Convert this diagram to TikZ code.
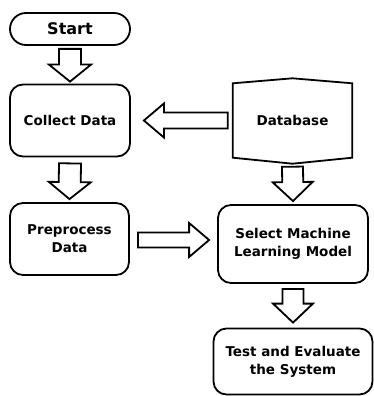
\documentclass[tikz,border=0pt]{standalone}
\usepackage{fontspec}
\setmainfont{DejaVu Sans}
\usetikzlibrary{positioning, calc}

% block arrow: tail, tip, half shaft, half head, head length
\newcommand{\fatarrow}[5]{%
  \coordinate (fa-b) at ($(#2)!#5!(#1)$);
  \draw[fatline] ($(#1)!#3!90:(#2)$) -- ($(fa-b)!#3!90:(#2)$) -- ($(fa-b)!#4!90:(#2)$)
    -- (#2) -- ($(fa-b)!#4!-90:(#2)$) -- ($(fa-b)!#3!-90:(#2)$) -- ($(#1)!#3!-90:(#2)$) -- cycle;}

\begin{document}
\begin{tikzpicture}[x=1pt, y=-1pt,
  boxline/.style={draw=black, line width=1.8pt},
  fatline/.style={draw=black, fill=white, line width=1.8pt, line join=miter},
  procbox/.style={boxline, rounded corners=13pt, align=center, inner sep=0pt, font=\bfseries\fontsize{13.5}{18}\selectfont},
  startbox/.style={boxline, rounded corners=16pt, minimum width=120pt, minimum height=32pt, inner sep=0pt, font=\bfseries\fontsize{16}{19}\selectfont},
  dbbox/.style={minimum width=119pt, minimum height=74pt, inner sep=0pt, font=\bfseries\fontsize{13.5}{18}\selectfont}
]
  \useasboundingbox (0,0) rectangle (374,396);

  % boxes
  \node[startbox] (start) at (70,29) {Start};
  \node[procbox, minimum width=120pt, minimum height=72pt] (collect) at (70,120.5) {Collect Data};
  \node[procbox, minimum width=119pt, minimum height=72pt] (prep) at (69.5,239) {Preprocess\\Data};
  \node[dbbox] (db) at (292.5,120.5) {Database};
  \draw[boxline] (db.north west) -- ([yshift=5pt]db.north) -- (db.north east)
    -- (db.south east) -- ([yshift=-6pt]db.south) -- (db.south west) -- cycle;
  \node[procbox, minimum width=150pt, minimum height=78pt] (select) at (293,244) {Select Machine\\Learning Model};
  \node[procbox, minimum width=159pt, minimum height=66pt] (test) at (293,361.5) {Test and Evaluate\\the System};

  % arrows
  \coordinate (a1t) at ([yshift=-3pt]start.south);
  \coordinate (a1h) at ([yshift=2pt]collect.north);
  \fatarrow{a1t}{a1h}{11pt}{21pt}{17pt}
  \coordinate (a2t) at ([yshift=-6pt]collect.south);
  \coordinate (a2h) at ([yshift=3pt]prep.north);
  \fatarrow{a2t}{a2h}{11pt}{21pt}{17pt}
  \coordinate (a3t) at ([xshift=-5pt]db.west);
  \coordinate (a3h) at ([xshift=13pt]collect.east);
  \fatarrow{a3t}{a3h}{8pt}{17pt}{20pt}
  \coordinate (a4t) at ([yshift=-9pt]db.south);
  \coordinate (a4h) at ([yshift=3pt]select.north);
  \fatarrow{a4t}{a4h}{10.5pt}{20pt}{19pt}
  \coordinate (a5t) at ($(prep.east)+(8pt,-1pt)$);
  \coordinate (a5h) at ($(a5t -| select.west)+(-8pt,0pt)$);
  \fatarrow{a5t}{a5h}{7.5pt}{17pt}{20pt}
  \coordinate (a6t) at ([yshift=-5pt]select.south);
  \coordinate (a6h) at ([yshift=5pt]test.north);
  \fatarrow{a6t}{a6h}{10.5pt}{20pt}{19pt}
\end{tikzpicture}
\end{document}
